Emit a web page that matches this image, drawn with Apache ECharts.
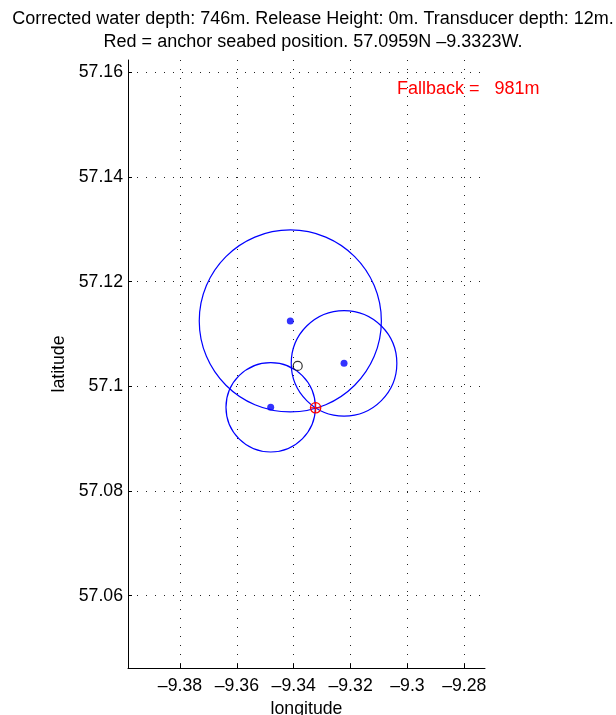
<!DOCTYPE html>
<html>
<head>
<meta charset="utf-8">
<style>
  html, body { margin: 0; padding: 0; background: #ffffff; }
  #chart { width: 616px; height: 715px; }
</style>
<script src="https://cdn.jsdelivr.net/npm/echarts@6/dist/echarts.min.js"></script>
</head>
<body>
<div id="chart"></div>
<script>
// Acoustic ranging fix of a mooring anchor: three beacon positions with their
// horizontal slant-range circles, the drop position and the solved anchor.
const beaconLon = [-9.3412, -9.3223, -9.3481];
const beaconLat = [57.1125, 57.1044, 57.0960];
const beaconRange = [1936, 1123, 951];          // horizontal range, metres

const dropLon = [-9.3386];
const dropLat = [57.1039];

const anchorLon = [-9.3323];
const anchorLat = [57.0959];

const waterDepth = 746;
const releaseHeight = 0;
const transducerDepth = 12;
const fallbackDist = 981;

const lonRange = [-9.39829, -9.27272];
const latRange = [57.04619, 57.16235];

const FONT = '"Liberation Sans", Arial, sans-serif';
const M_PER_DEG_LAT = 111360;
const M_PER_DEG_LON_EQ = 111320;

function dash(v) { return String(v).replace('-', '\u2013'); }

const rangeData = beaconLon.map((lon, i) => [lon, beaconLat[i], beaconRange[i]]);
const beaconData = beaconLon.map((lon, i) => [lon, beaconLat[i]]);

const chart = echarts.init(document.getElementById('chart'), null, { renderer: 'canvas' });

const axisCommon = {
  type: 'value',
  splitNumber: 6,
  minInterval: 0.02,
  maxInterval: 0.02,
  nameLocation: 'middle',
  nameTextStyle: { color: '#000', fontSize: 17.7, fontFamily: FONT },
  axisLine: { show: true, onZero: false, lineStyle: { color: '#000', width: 1 } },
  axisTick: { show: true, inside: true, length: 4, lineStyle: { color: '#000' } },
  axisLabel: {
    color: '#000', fontSize: 17.7, fontFamily: FONT,
    showMinLabel: false, showMaxLabel: false,
    formatter: dash
  },
  splitLine: {
    show: true, showMinLine: false, showMaxLine: false,
    lineStyle: { color: '#222', width: 1, type: [1, 8] }
  }
};

chart.setOption({
  animation: false,
  backgroundColor: '#ffffff',
  title: {
    text: 'Corrected water depth: ' + waterDepth + 'm. Release Height: ' + releaseHeight +
          'm. Transducer depth: ' + transducerDepth + 'm.\nRed = anchor seabed position. ' +
          anchorLat[0].toFixed(4) + 'N ' + dash(anchorLon[0].toFixed(4)) + 'W.',
    left: 308, top: 3, textAlign: 'center',
    textStyle: { color: '#000', fontSize: 18, fontWeight: 'normal', fontFamily: FONT, lineHeight: 23 }
  },
  grid: { left: 128, right: 131, top: 60, bottom: 47, containLabel: false, outerBoundsMode: 'none' },
  xAxis: Object.assign({}, axisCommon, {
    min: lonRange[0], max: lonRange[1],
    name: 'longitude', nameGap: 28,
    axisLabel: Object.assign({}, axisCommon.axisLabel, { margin: 9 })
  }),
  yAxis: Object.assign({}, axisCommon, {
    min: latRange[0], max: latRange[1],
    name: 'latitude', nameGap: 58,
    axisLabel: Object.assign({}, axisCommon.axisLabel, { margin: 5 })
  }),
  series: [
    {
      // range circles around each beacon (metres converted to degrees)
      type: 'custom',
      data: rangeData,
      clip: false,
      silent: true,
      renderItem: function (params, api) {
        const lon = api.value(0), lat = api.value(1), r = api.value(2);
        const dLat = r / M_PER_DEG_LAT;
        const dLon = r / (M_PER_DEG_LON_EQ * Math.cos(lat * Math.PI / 180));
        const c = api.coord([lon, lat]);
        const py = api.coord([lon, lat + dLat]);
        const px = api.coord([lon + dLon, lat]);
        return {
          type: 'ellipse',
          shape: { cx: c[0], cy: c[1], rx: Math.abs(px[0] - c[0]), ry: Math.abs(c[1] - py[1]) },
          style: { fill: 'none', stroke: '#0000ff', lineWidth: 1.2 }
        };
      },
      z: 2
    },
    {
      type: 'scatter',
      data: beaconData,
      symbol: 'circle',
      symbolSize: 7,
      itemStyle: { color: '#0000ff' },
      silent: true,
      z: 3
    },
    {
      type: 'scatter',
      data: dropLon.map((lon, i) => [lon, dropLat[i]]),
      symbol: 'circle',
      symbolSize: 9,
      itemStyle: { color: 'rgba(0,0,0,0)', borderColor: '#000', borderWidth: 1.2 },
      silent: true,
      z: 4
    },
    {
      // anchor: circle with a cross
      type: 'custom',
      data: anchorLon.map((lon, i) => [lon, anchorLat[i]]),
      silent: true,
      renderItem: function (params, api) {
        const c = api.coord([api.value(0), api.value(1)]);
        const r = 5.2;
        const st = { stroke: '#ff0000', lineWidth: 1.2, fill: 'none' };
        return {
          type: 'group',
          children: [
            { type: 'circle', shape: { cx: c[0], cy: c[1], r: r }, style: st },
            { type: 'line', shape: { x1: c[0] - r, y1: c[1], x2: c[0] + r, y2: c[1] }, style: st },
            { type: 'line', shape: { x1: c[0], y1: c[1] - r, x2: c[0], y2: c[1] + r }, style: st }
          ]
        };
      },
      z: 5
    }
  ],
  graphic: [
    {
      type: 'text',
      left: 397, top: 80,
      style: { text: 'Fallback =   ' + fallbackDist + 'm', fill: '#ff0000', fontSize: 18, fontFamily: FONT }
    }
  ]
});
</script>
</body>
</html>
